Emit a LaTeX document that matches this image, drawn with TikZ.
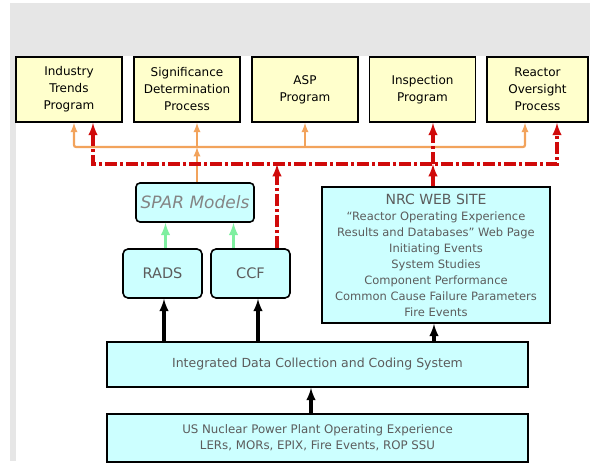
\documentclass[tikz,border=0pt]{standalone}
\usepackage{fontspec}
\setmainfont{DejaVu Sans}
\usepackage{tikz}
\usetikzlibrary{arrows}

\definecolor{progfill}{HTML}{FFFFCC}
\definecolor{datafill}{HTML}{CCFFFF}
\definecolor{datatext}{HTML}{5C5C5C}
\definecolor{sparfont}{HTML}{858585}
\definecolor{linkorange}{HTML}{F2A35C}
\definecolor{linkred}{HTML}{D00A0A}
\definecolor{linkgreen}{HTML}{7FEFA0}
\definecolor{slidegray}{HTML}{E6E6E6}

\begin{document}
\begin{tikzpicture}[x=1pt,y=-1pt,
  prog/.style={draw,line width=1.6pt,fill=progfill,minimum width=106pt,minimum height=65pt,
    inner sep=0pt,align=center,font=\fontsize{12}{17}\selectfont},
  data/.style={draw,line width=1.6pt,fill=datafill,inner sep=0pt,align=center,text=datatext},
  orangelink/.style={draw=linkorange,line width=2.2pt},
  redlink/.style={draw=linkred,line width=3.2pt,dash pattern=on 12pt off 3pt on 3pt off 3pt},
  greenlink/.style={draw=linkgreen,line width=3.2pt},
  blacklink/.style={draw=black,line width=3.2pt}]
  \useasboundingbox (0,0) rectangle (590,464);
  \fill[slidegray] (10,3) rectangle (590,56);
  \fill[slidegray] (10,56) rectangle (16,461);

  % programs on top
  \node[prog] (trends) at (69,89.5) {Industry\\Trends\\Program};
  \node[prog] (sdp) at (187,89.5) {Significance\\Determination\\Process};
  \node[prog] (asp) at (305,89.5) {ASP\\Program};
  \node[prog] (inspect) at (422.5,89.5) {Inspection\\Program};
  \node[prog,minimum width=101pt] (reactor) at (537.5,89.5) {Reactor\\Oversight\\Process};

  % data and models
  \node[data,rounded corners=4pt,minimum width=118pt,minimum height=39pt,text=sparfont,
    font=\fontsize{17}{20}\selectfont\itshape] (spar) at (195,202.5) {SPAR Models};
  \node[data,rounded corners=5pt,minimum width=79pt,minimum height=49pt,
    font=\fontsize{14.5}{17}\selectfont] (rads) at (162.5,273.5) {RADS};
  \node[data,rounded corners=5pt,minimum width=79pt,minimum height=49pt,
    font=\fontsize{14.5}{17}\selectfont] (ccf) at (250.5,273.5) {CCF};
  \node[data,minimum width=228pt,minimum height=136pt,font=\fontsize{11.5}{16}\selectfont] (nrc) at (436,255)
    {{\fontsize{14}{16}\selectfont NRC  WEB SITE}\\
     “Reactor Operating Experience\\
     Results and Databases” Web Page\\
     Initiating Events\\
     System Studies\\
     Component Performance\\
     Common Cause Failure Parameters\\
     Fire Events};
  \node[data,minimum width=421pt,minimum height=45pt,font=\fontsize{12.5}{16}\selectfont] (idc) at (317.5,364.5)
    {Integrated Data Collection and Coding System};
  \node[data,minimum width=421pt,minimum height=48pt,font=\fontsize{11.8}{16}\selectfont] (us) at (317.5,438)
    {US Nuclear Power Plant Operating Experience\\LERs, MORs, EPIX, Fire Events, ROP SSU};

  % bus points
  \coordinate (oL) at (74,147);
  \coordinate (oS) at (197,147);
  \coordinate (oA) at (305,147);
  \coordinate (oR) at (525,147);
  \coordinate (rL) at (93,164);
  \coordinate (rC) at (277,164);
  \coordinate (rN) at (433,164);
  \coordinate (rR) at (557,164);
  \coordinate (gR) at ([xshift=3pt]rads.north);
  \coordinate (gC) at ([xshift=-17pt]ccf.north);
  \coordinate (kR) at ([xshift=1.5pt]rads.south);
  \coordinate (kC) at ([xshift=7.5pt]ccf.south);
  \coordinate (kN) at ([xshift=-2pt]nrc.south);
  \coordinate (kU) at ([xshift=-6.5pt]us.north);

  \draw[orangelink,latex-latex,rounded corners=2pt] (trends.south -| oL) -- (oL) -- (oR) -- (reactor.south -| oR);
  \draw[orangelink,-latex] (oA) -- (asp.south -| oA);
  \draw[orangelink,-latex] (spar.north -| oS) -- (oS);
  \draw[orangelink,-latex] (oS) -- (sdp.south -| oS);

  \draw[redlink,latex-latex] (trends.south -| rL) -- (rL) -- (rR) -- (reactor.south -| rR);
  \draw[redlink,-latex] (ccf.north -| rC) -- (rC);
  \draw[redlink,-latex] (nrc.north -| rN) -- (rN);
  \draw[redlink,-latex] (rN) -- (inspect.south -| rN);

  \draw[greenlink,-latex] (gR) -- (spar.south -| gR);
  \draw[greenlink,-latex] (gC) -- (spar.south -| gC);

  \draw[blacklink,-latex] (idc.north -| kR) -- (kR);
  \draw[blacklink,-latex] (idc.north -| kC) -- (kC);
  \draw[blacklink,-latex] (idc.north -| kN) -- (kN);
  \draw[blacklink,-latex] (kU) -- (idc.south -| kU);
\end{tikzpicture}
\end{document}
